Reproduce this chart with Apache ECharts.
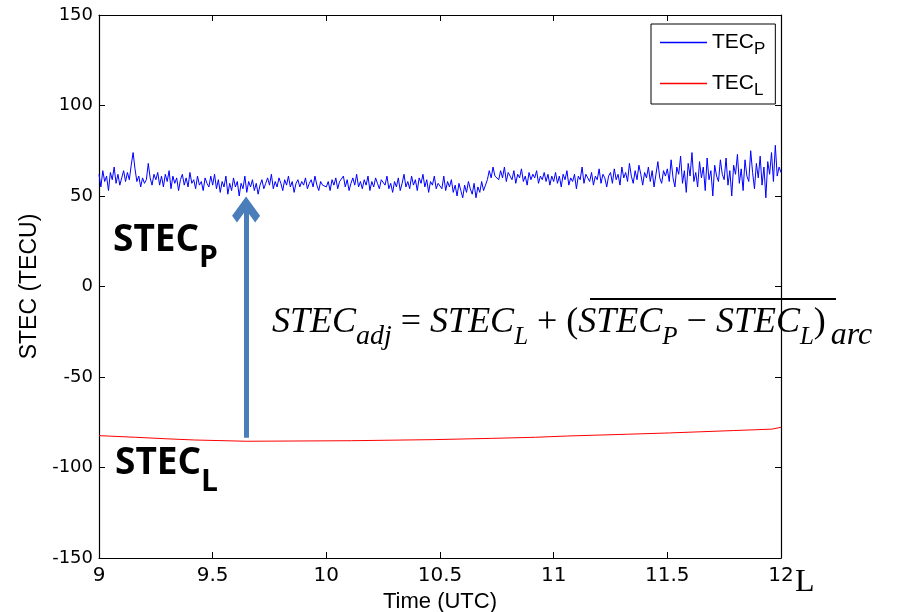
<!DOCTYPE html>
<html><head><meta charset="utf-8">
<script src="https://cdn.jsdelivr.net/npm/echarts@6/dist/echarts.min.js"></script>
<style>html,body{margin:0;padding:0;background:#fff}#c{width:899px;height:612px}</style>
</head><body><div id="c"></div>
<script>
// ---- data ----
const xMin = 9, xMax = 12, xInterval = 0.5;
const yMin = -150, yMax = 150, yInterval = 50;
const blueStart = 9, blueStep = 1 / 120; // 30-second sampling grid (hours UTC)
const blueValues = [
  62, 55, 64, 58, 61, 53, 63, 59, 66, 57, 62, 56, 60, 64, 58, 63, 59, 67, 74, 65, 58, 61, 55, 60, 57, 59, 68, 60, 56, 62,
  59, 63, 56, 61, 55, 62, 58, 64, 54, 61, 57, 60, 53, 59, 62, 56, 60, 55, 63, 57, 59, 54, 61, 56, 58, 53, 60, 57, 55, 61,
  56, 62, 54, 59, 52, 58, 55, 61, 51, 57, 53, 60, 55, 58, 50, 57, 54, 61, 52, 58, 55, 59, 53, 57, 51, 56, 59, 54, 57, 60,
  56, 62, 54, 58, 55, 60, 57, 53, 59, 56, 61, 55, 58, 52, 57, 59, 55, 58, 56, 60, 54, 57, 59, 55, 61, 56, 53, 58, 56, 57,
  55, 58, 53, 59, 56, 60, 54, 58, 57, 61, 55, 59, 53, 57, 60, 56, 62, 55, 58, 54, 59, 56, 61, 53, 58, 55, 60, 57, 54, 59,
  59, 56, 61, 54, 57, 52, 58, 55, 60, 53, 57, 62, 55, 58, 54, 61, 56, 59, 53, 60, 57, 62, 55, 59, 52, 58, 56, 61, 54, 57,
  57, 54, 61, 53, 58, 55, 59, 52, 56, 50, 57, 53, 49, 56, 52, 58, 54, 51, 57, 49, 55, 52, 58, 53, 56, 59, 64, 60, 66, 61,
  62, 59, 64, 60, 66, 58, 63, 61, 59, 64, 57, 62, 60, 65, 58, 61, 56, 63, 59, 62, 60, 64, 57, 61, 59, 63, 58, 62, 56, 61,
  58, 63, 57, 61, 55, 62, 59, 64, 56, 60, 58, 62, 54, 61, 59, 66, 57, 62, 60, 58, 63, 56, 61, 59, 65, 57, 62, 60, 55, 61,
  63, 57, 65, 59, 62, 56, 66, 60, 63, 58, 68, 61, 57, 64, 59, 67, 62, 56, 63, 60, 66, 58, 64, 55, 62, 69, 60, 57, 64, 61,
  65, 58, 70, 60, 55, 66, 62, 72, 57, 64, 52, 68, 61, 74, 58, 63, 55, 69, 60, 66, 53, 71, 59, 64, 50, 67, 61, 58, 70, 62,
  59, 71, 56, 64, 50, 67, 62, 73, 57, 65, 53, 70, 61, 58, 75, 63, 54, 68, 60, 72, 56, 66, 49, 69, 62, 74, 58, 78, 61, 66, 63
];
const redTime  = [9.0, 9.16, 9.29, 9.42, 9.65, 10.11, 10.47, 10.73, 10.92, 11.06, 11.33, 11.51, 11.64, 11.79, 11.96, 12.0];
const redValue = [-82.4, -83.3, -84.1, -84.8, -85.5, -85.2, -84.6, -83.9, -83.3, -82.6, -81.6, -80.9, -80.3, -79.6, -78.8, -77.8];
const arrowTime = 9.647, arrowFrom = -83.5, arrowTo = 42.5;
const seriesNames = ['TEC_P', 'TEC_L'];
const seriesColors = ['#0000ff', '#ff0000'];

// ---- build ----
const blueData = blueValues.map((v, i) => [blueStart + i * blueStep, v]);
const redData = redTime.map((t, i) => [t, redValue[i]]);
const chevron = 'path://M10,0 L20,10 L16.5,13.5 L10,7 L3.5,13.5 L0,10 Z';
const frameLine = { show: true, onZero: false, lineStyle: { color: '#000', width: 1.2 } };
const frameTick = { show: true, inside: true, length: 6, lineStyle: { color: '#000', width: 1 } };

const chart = echarts.init(document.getElementById('c'), null, { renderer: 'canvas' });
chart.setOption({
  animation: false,
  backgroundColor: '#fff',
  color: seriesColors,
  grid: { left: 99, top: 15, right: 118, bottom: 54, containLabel: false, outerBoundsMode: 'none' },
  legend: {
    data: seriesNames.map((n, i) => ({
      name: n, icon: 'rect',
      itemStyle: { color: seriesColors[i], borderColor: seriesColors[i], borderWidth: 0, opacity: 1 }
    })),
    orient: 'vertical',
    left: 651, top: 24,
    padding: [8, 10, 5, 9],
    itemGap: 15,
    itemWidth: 47, itemHeight: 1.4,
    borderColor: '#000', borderWidth: 1,
    backgroundColor: '#fff',
    formatter: n => n === 'TEC_P' ? '{m|TEC}{s|P}' : '{m|TEC}{s|L}',
    textStyle: {
      rich: {
        m: { fontFamily: 'Liberation Sans', fontSize: 21, lineHeight: 21, color: '#000', verticalAlign: 'top' },
        s: { fontFamily: 'Liberation Sans', fontSize: 17, lineHeight: 17, color: '#000', verticalAlign: 'top', padding: [9, 0, 0, 0] }
      }
    }
  },
  xAxis: [{
    type: 'value', min: xMin, max: xMax, interval: xInterval, position: 'bottom',
    name: 'Time (UTC)', nameLocation: 'middle', nameGap: 31,
    nameTextStyle: { fontFamily: 'Liberation Sans', fontSize: 22, color: '#000' },
    axisLine: frameLine, axisTick: frameTick,
    axisLabel: { margin: 8, fontFamily: 'DejaVu Sans', fontSize: 20, color: '#000' },
    splitLine: { show: false }
  }, {
    type: 'value', min: xMin, max: xMax, interval: xInterval, position: 'top',
    axisLine: frameLine, axisTick: frameTick,
    axisLabel: { show: false }, splitLine: { show: false }
  }],
  yAxis: [{
    type: 'value', min: yMin, max: yMax, interval: yInterval, position: 'left',
    name: 'STEC (TECU)', nameLocation: 'middle', nameGap: 57,
    nameTextStyle: { fontFamily: 'Liberation Sans', fontSize: 23, color: '#000' },
    axisLine: frameLine, axisTick: frameTick,
    axisLabel: { margin: 6, fontFamily: 'DejaVu Sans', fontSize: 18, color: '#000' },
    splitLine: { show: false }
  }, {
    type: 'value', min: yMin, max: yMax, interval: yInterval, position: 'right',
    axisLine: frameLine, axisTick: frameTick,
    axisLabel: { show: false }, splitLine: { show: false }
  }],
  series: [{
    name: seriesNames[0], type: 'line', data: blueData,
    symbol: 'none', showSymbol: false,
    lineStyle: { color: seriesColors[0], width: 1 },
    itemStyle: { color: seriesColors[0], borderColor: seriesColors[0] }, z: 3
  }, {
    name: seriesNames[1], type: 'line', data: redData,
    symbol: 'none', showSymbol: false,
    lineStyle: { color: seriesColors[1], width: 1 },
    itemStyle: { color: seriesColors[1], borderColor: seriesColors[1] }, z: 3
  }, {
    name: 'arrow', type: 'line', data: [], symbol: 'none', z: 4,
    markLine: {
      silent: true, animation: false,
      label: { show: false },
      lineStyle: { color: '#4a7ebb', width: 5, type: 'solid' },
      data: [[
        { coord: [arrowTime, arrowFrom], symbol: 'none' },
        { coord: [arrowTime, arrowTo], symbol: chevron, symbolSize: [28, 26] }
      ]]
    }
  }],
  graphic: [
    {
      type: 'text', left: 113, top: 222, z: 10,
      style: {
        text: '{a|STEC}{b|P}',
        rich: {
          a: { fontFamily: 'Open Sans', fontWeight: 'bold', fontSize: 37, lineHeight: 37, fill: '#000', verticalAlign: 'top' },
          b: { fontFamily: 'Open Sans', fontWeight: 'bold', fontSize: 30, lineHeight: 30, fill: '#000', verticalAlign: 'top', padding: [21, 0, 0, 0] }
        }
      }
    },
    {
      type: 'text', left: 115, top: 445, z: 10,
      style: {
        text: '{a|STEC}{b|L}',
        rich: {
          a: { fontFamily: 'Open Sans', fontWeight: 'bold', fontSize: 37, lineHeight: 37, fill: '#000', verticalAlign: 'top' },
          b: { fontFamily: 'Open Sans', fontWeight: 'bold', fontSize: 30, lineHeight: 30, fill: '#000', verticalAlign: 'top', padding: [22, 0, 0, 0] }
        }
      }
    },
    {
      type: 'text', left: 272, top: 305, z: 10,
      style: {
        text: '{i|STEC}{w|adj}{r| = }{i|STEC}{s|L}{r| + (}{i|STEC}{s|P}{r| \u2212 }{i|STEC}{s|L}{r|)}{t|arc}',
        rich: {
          i: { fontFamily: 'Liberation Serif', fontStyle: 'italic', fontSize: 36, lineHeight: 36, fill: '#000', verticalAlign: 'top' },
          r: { fontFamily: 'Liberation Serif', fontSize: 36, lineHeight: 36, fill: '#000', verticalAlign: 'top' },
          w: { fontFamily: 'Liberation Serif', fontStyle: 'italic', fontSize: 28, lineHeight: 28, fill: '#000', verticalAlign: 'top', padding: [18, 0, 0, 0] },
          s: { fontFamily: 'Liberation Serif', fontStyle: 'italic', fontSize: 25, lineHeight: 25, fill: '#000', verticalAlign: 'top', padding: [20, 0, 0, 0] },
          t: { fontFamily: 'Liberation Serif', fontStyle: 'italic', fontSize: 32, lineHeight: 32, fill: '#000', verticalAlign: 'top', padding: [15, 0, 0, 5] }
        }
      }
    },
    {
      type: 'line', z: 10,
      shape: { x1: 590, y1: 299, x2: 836, y2: 299 },
      style: { stroke: '#000', lineWidth: 2 }
    },
    {
      type: 'text', left: 795, top: 567, z: 10,
      style: { text: 'L', fontFamily: 'Liberation Serif', fontSize: 32, fill: '#000' }
    }
  ]
});
</script>
</body></html>
